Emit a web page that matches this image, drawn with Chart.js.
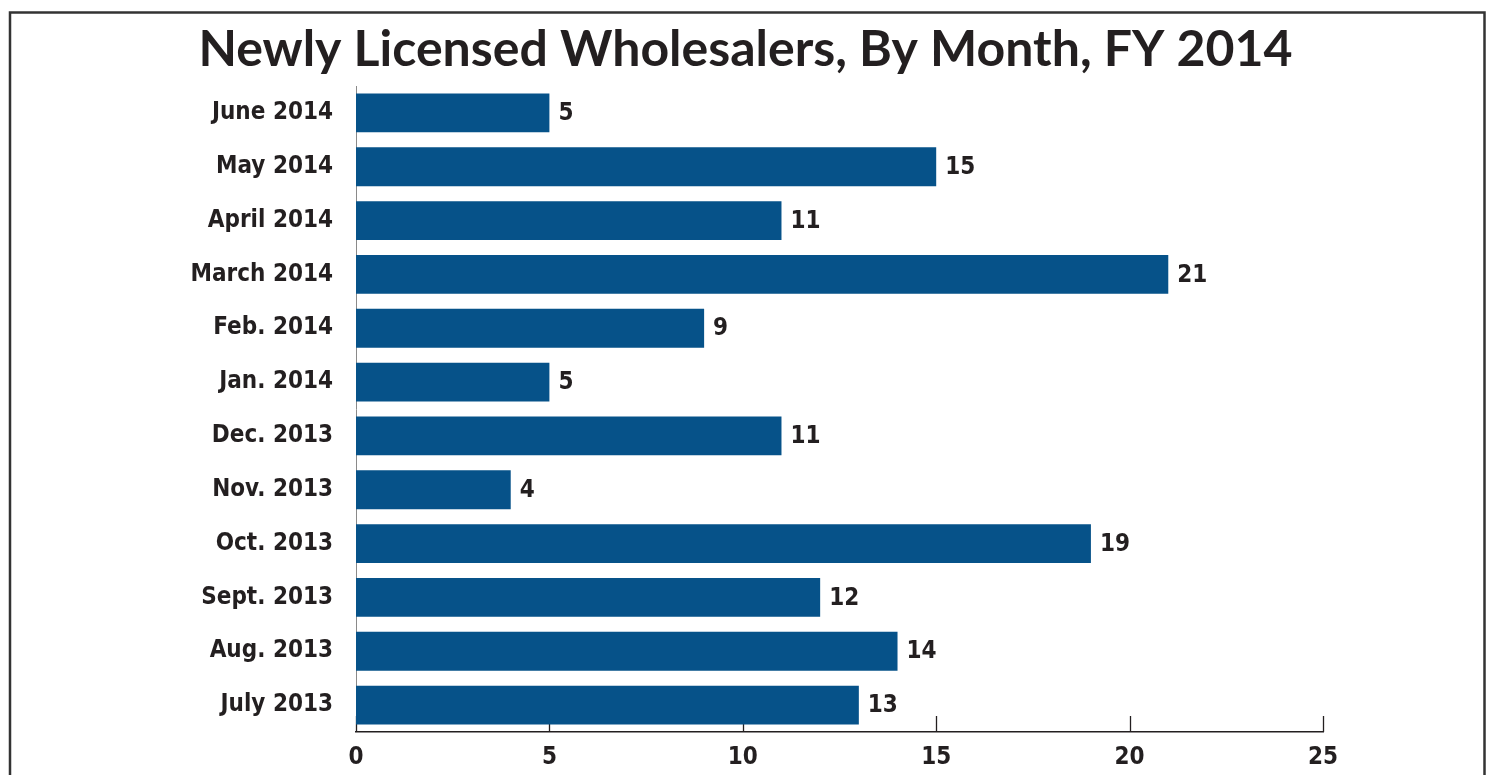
<!DOCTYPE html>
<html>
<head>
<meta charset="utf-8">
<script src="https://cdn.jsdelivr.net/npm/chart.js@4"></script>
<style>
  html, body { margin: 0; padding: 0; background: #fff; }
  #wrap { width: 1491px; height: 775px; position: relative; }
</style>
</head>
<body>
<div id="wrap"><canvas id="myChart"></canvas></div>
<script>
const ctx = document.getElementById('myChart');

var months = ["June 2014", "May 2014", "April 2014", "March 2014", "Feb. 2014", "Jan. 2014",
              "Dec. 2013", "Nov. 2013", "Oct. 2013", "Sept. 2013", "Aug. 2013", "July 2013"];
var wholesalers = [5, 15, 11, 21, 9, 5, 11, 4, 19, 12, 14, 13];
var xTicks = [0, 5, 10, 15, 20, 25];

var barColor = "#065289";
var textColor = "#231f20";
var labelFont = "'DejaVu Sans Condensed', 'DejaVu Sans', sans-serif";
var labelSize = 24;

// frame around the whole graphic
const framePlugin = {
    id: 'frame',
    beforeDraw(chart) {
        const c = chart.ctx;
        c.save();
        c.strokeStyle = "#333";
        c.lineWidth = 2.5;
        c.strokeRect(10, 12.5, 1474.5, 800);
        c.restore();
    }
};

// short ticks pointing up from the x axis
const tickMarks = {
    id: 'tickMarks',
    beforeDatasetsDraw(chart) {
        const x = chart.scales.x;
        const c = chart.ctx;
        const bottom = chart.chartArea.bottom;
        c.save();
        c.strokeStyle = "#231f20";
        c.lineWidth = 1.3;
        x.ticks.forEach(function (t, i) {
            const px = Math.round(x.getPixelForTick(i)) + 0.5;
            c.beginPath();
            c.moveTo(px, bottom);
            c.lineTo(px, bottom - 16);
            c.stroke();
        });
        c.restore();
    }
};

// value printed after each bar
const valueLabels = {
    id: 'valueLabels',
    afterDatasetsDraw(chart) {
        const c = chart.ctx;
        const meta = chart.getDatasetMeta(0);
        c.save();
        c.fillStyle = textColor;
        c.font = "bold " + labelSize + "px " + labelFont;
        c.textAlign = "left";
        c.textBaseline = "middle";
        meta.data.forEach(function (bar, i) {
            c.fillText(String(wholesalers[i]), bar.x + 9, bar.y + 1);
        });
        c.restore();
    }
};

const chart = new Chart(ctx, {
    type: 'bar',
    data: {
        labels: months,
        datasets: [{
            data: wholesalers,
            backgroundColor: barColor,
            borderWidth: 0,
            barPercentage: 0.72,
            categoryPercentage: 1.0
        }]
    },
    options: {
        indexAxis: 'y',
        responsive: true,
        maintainAspectRatio: false,
        animation: false,
        layout: {
            // equal side padding keeps the title centred on the page
            padding: { left: 168, right: 168, top: 0, bottom: 0 }
        },
        scales: {
            x: {
                min: 0,
                max: 25,
                afterBuildTicks: function (scale) {
                    scale.ticks = xTicks.map(function (v) { return { value: v }; });
                },
                afterFit: function (scale) { scale.height = 43; },
                grid: { display: false, drawTicks: false },
                border: { display: true, color: "#231f20", width: 1.6 },
                ticks: {
                    color: textColor,
                    padding: 11,
                    font: { family: labelFont, size: labelSize, weight: 'bold' }
                }
            },
            y: {
                afterFit: function (scale) { scale.width = 188; },
                grid: { display: false, drawTicks: false },
                border: { display: true, color: "#8a8a8a", width: 1 },
                ticks: {
                    color: textColor,
                    padding: 23,
                    font: { family: labelFont, size: labelSize, weight: 'bold' }
                }
            }
        },
        plugins: {
            legend: { display: false },
            tooltip: { enabled: false },
            title: {
                display: true,
                text: "Newly Licensed Wholesalers, By Month, FY 2014",
                color: textColor,
                font: { family: "Lato, 'Open Sans', sans-serif", size: 50, weight: 'bold', lineHeight: 1.2 },
                padding: { top: 20, bottom: 6 }
            }
        }
    },
    plugins: [framePlugin, tickMarks, valueLabels]
});
</script>
</body>
</html>
